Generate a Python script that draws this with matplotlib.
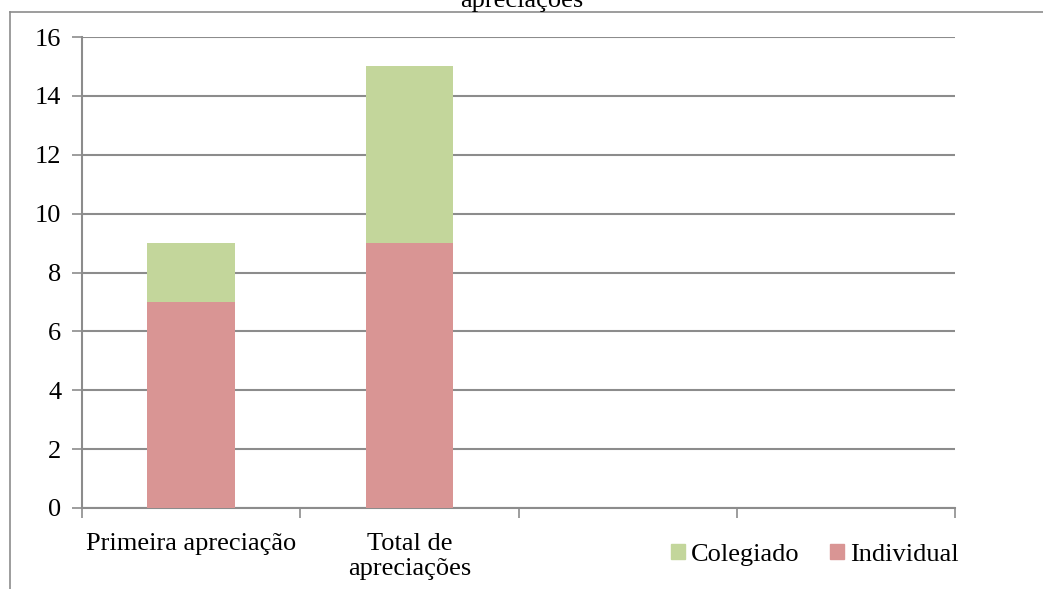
import matplotlib
matplotlib.use("Agg")
import matplotlib.pyplot as plt
from matplotlib.lines import Line2D
from matplotlib.patches import Patch

categories = ["Primeira apreciação", "Total de\napreciações", "", ""]
individual = [7, 9, 0, 0]
colegiado = [2, 6, 0, 0]
yticks = [0, 2, 4, 6, 8, 10, 12, 14, 16]
title_text = "apreciações"

RED = "#D99594"
GREEN = "#C3D69B"
GRID = "#8C8C8C"
FS = 19

plt.rcParams["font.family"] = ["Liberation Serif", "DejaVu Serif"]

W, H = 1043, 589
fig = plt.figure(figsize=(W / 100, H / 100), dpi=100)

# outer chart frame (left and top edges)
fig.add_artist(Line2D([10 / W, 10 / W], [0, 1 - 12 / H], color=GRID, lw=1.2))
fig.add_artist(Line2D([10 / W, 1], [1 - 12 / H, 1 - 12 / H], color=GRID, lw=1.2))

# title, partly above the top edge of the figure
fig.text(522 / W, 1 - 1 / H, title_text, ha="center", va="center", fontsize=FS)

ax = fig.add_axes([82 / W, 1 - 508 / H, (955 - 82) / W, (508 - 37) / H])

x = list(range(len(categories)))
ax.bar(x, individual, width=0.4, color=RED, zorder=3, label="Individual")
ax.bar(x, colegiado, width=0.4, bottom=individual, color=GREEN, zorder=3,
       label="Colegiado")

ax.set_xlim(-0.5, len(categories) - 0.5)
ax.set_ylim(0, 16)
ax.set_yticks(yticks)
ax.set_yticklabels([str(v) for v in yticks], fontsize=FS)
ax.yaxis.grid(True, color=GRID, lw=1.5, zorder=0)

ax.set_xticks([i - 0.5 for i in range(len(categories) + 1)])
ax.set_xticklabels([])
ax.set_xticks(x, minor=True)
ax.set_xticklabels(categories, minor=True, fontsize=FS, linespacing=1.2)
ax.tick_params(axis="x", which="major", direction="out", length=7, width=1.2,
               color=GRID)
ax.tick_params(axis="x", which="minor", length=0, pad=18)
ax.tick_params(axis="y", direction="out", length=7, width=1.2, color=GRID, pad=8)

for side in ["top", "right"]:
    ax.spines[side].set_visible(False)
for side in ["left", "bottom"]:
    ax.spines[side].set_color(GRID)
    ax.spines[side].set_linewidth(1.5)

handles = [Patch(color=GREEN), Patch(color=RED)]
fig.legend(handles, ["Colegiado", "Individual"], loc="center",
           bbox_to_anchor=(815 / W, 1 - 555 / H), ncol=2, frameon=False,
           fontsize=FS, handlelength=0.53, handleheight=0.53, handletextpad=0.23,
           columnspacing=1.14)

fig.savefig("out.png", dpi=100)
